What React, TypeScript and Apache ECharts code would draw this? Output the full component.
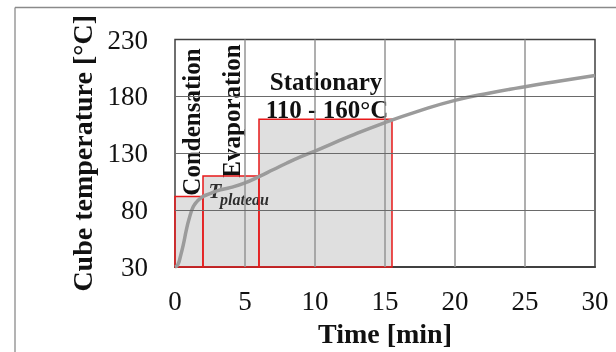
import React, { useEffect, useRef } from "react";
import * as echarts from "echarts";

const timeMin = [0, 0.2, 0.4, 0.6, 0.8, 1.0, 1.3, 1.6, 2.0, 2.5, 3.0, 4.0, 5.0, 6.0, 7.0, 8.0, 9.0, 10.0, 12.5, 15.0, 17.5, 20.0, 22.5, 25.0, 27.5, 30.0];
const tempC = [30, 32, 40, 50, 62, 72, 83, 88, 92, 94.5, 97, 100, 104, 109.5, 115.5, 121.5, 127, 132, 145, 157, 167.5, 176.5, 183, 188.5, 193.5, 198.4];

const phaseNames = ["Condensation", "Evaporation", "Stationary"];
const phaseStart = [0, 2, 6];
const phaseEnd = [2, 6, 15.5];
const phaseTop = [92, 110, 160];

const yMin = 30;
const yMax = 230;
const yStep = 50;
const xMin = 0;
const xMax = 30;
const xStep = 5;
const xGrid = [5, 10, 15, 20, 25];
const yGrid = [80, 130, 180];

const SERIF = "'Liberation Serif', 'Times New Roman', serif";

export default function App() {
  const ref = useRef<HTMLDivElement>(null);
  useEffect(() => {
    if (!ref.current) return;
    document.body.style.margin = "0";
    document.body.style.overflow = "hidden";
    document.documentElement.style.overflow = "hidden";
    const chart = echarts.init(ref.current, null, { renderer: "svg" });
    const pairs = timeMin.map((t, i) => [t, tempC[i]]);
    const option: any = {
      animation: false,
      grid: {
        left: 175,
        top: 39.5,
        right: 21,
        bottom: 78.3,
        show: true,
        borderColor: "#404040",
        borderWidth: 1.5,
        backgroundColor: "transparent",
      },
      xAxis: {
        type: "value",
        min: xMin,
        max: xMax,
        interval: xStep,
        name: "Time [min]",
        nameLocation: "middle",
        nameGap: 49,
        nameTextStyle: { fontFamily: SERIF, fontWeight: "bold", fontSize: 28, color: "#111" },
        axisLine: { show: true, onZero: false, lineStyle: { color: "#404040", width: 2 } },
        axisTick: { show: false },
        axisLabel: { fontFamily: SERIF, fontSize: 27, color: "#111", margin: 20 },
        splitLine: { show: false },
      },
      yAxis: {
        type: "value",
        min: yMin,
        max: yMax,
        interval: yStep,
        name: "Cube temperature [°C]",
        nameLocation: "middle",
        nameGap: 74,
        nameTextStyle: { fontFamily: SERIF, fontWeight: "bold", fontSize: 28, color: "#111" },
        axisLine: { show: false },
        axisTick: { show: false },
        axisLabel: { fontFamily: SERIF, fontSize: 27, color: "#111", margin: 27 },
        splitLine: { show: false },
      },
      series: [
        {
          type: "line",
          name: "phases",
          data: pairs,
          z: 1,
          showSymbol: false,
          silent: true,
          lineStyle: { opacity: 0 },
          markArea: {
            silent: true,
            itemStyle: {
              color: "rgba(150,150,150,0.30)",
              borderColor: "#e8191a",
              borderWidth: 1.5,
            },
            label: { show: false },
            data: phaseStart.map((s, i) => [
              { xAxis: s, yAxis: yMin },
              { xAxis: phaseEnd[i], yAxis: phaseTop[i] },
            ]),
          },
        },
        {
          type: "line",
          name: "grid",
          data: pairs,
          z: 2,
          showSymbol: false,
          silent: true,
          lineStyle: { opacity: 0 },
          markLine: {
            silent: true,
            symbol: ["none", "none"],
            label: { show: false },
            data: [
              ...xGrid.map((v) => ({ xAxis: v, lineStyle: { color: "#959595", width: 1.5, type: "solid" } })),
              ...yGrid.map((v) => ({ yAxis: v, lineStyle: { color: "#6a6a6a", width: 1, type: "solid" } })),
            ],
          },
        },
        {
          type: "line",
          name: "Cube temperature",
          data: pairs,
          smooth: 0.5,
          showSymbol: false,
          z: 3,
          lineStyle: { color: "#9b9b9b", width: 3.5 },
        },
      ],
      graphic: [
        {
          type: "line",
          silent: true,
          shape: { x1: 15, y1: 7.5, x2: 616, y2: 7.5 },
          style: { stroke: "#8a8a8a", lineWidth: 1.3 },
        },
        {
          type: "line",
          silent: true,
          shape: { x1: 15, y1: 7.5, x2: 15, y2: 352 },
          style: { stroke: "#8a8a8a", lineWidth: 1.3 },
        },
        {
          type: "text",
          x: 191.5,
          y: 122,
          rotation: Math.PI / 2,
          style: {
            text: phaseNames[0],
            font: `bold 25px ${SERIF}`,
            fill: "#111",
            textAlign: "center",
            textVerticalAlign: "middle",
          },
        },
        {
          type: "text",
          x: 231.5,
          y: 111,
          rotation: Math.PI / 2,
          style: {
            text: phaseNames[1],
            font: `bold 25px ${SERIF}`,
            fill: "#111",
            textAlign: "center",
            textVerticalAlign: "middle",
          },
        },
        {
          type: "text",
          x: 326,
          y: 81.5,
          style: {
            text: phaseNames[2],
            font: `bold 25px ${SERIF}`,
            fill: "#111",
            textAlign: "center",
            textVerticalAlign: "middle",
          },
        },
        {
          type: "text",
          x: 327,
          y: 109,
          style: {
            text: "110 - 160°C",
            font: `bold 25px ${SERIF}`,
            fill: "#111",
            textAlign: "center",
            textVerticalAlign: "middle",
          },
        },
        {
          type: "text",
          x: 208.5,
          y: 191,
          style: {
            text: "T",
            font: `italic bold 21px ${SERIF}`,
            fill: "#000",
            textAlign: "left",
            textVerticalAlign: "middle",
          },
        },
        {
          type: "text",
          x: 220,
          y: 199,
          style: {
            text: "plateau",
            font: `italic bold 16px ${SERIF}`,
            fill: "#000",
            textAlign: "left",
            textVerticalAlign: "middle",
          },
        },
      ],
    };
    chart.setOption(option);
    return () => chart.dispose();
  }, []);
  return (
    <div
      ref={ref}
      style={{ position: "fixed", left: 0, top: 0, width: 616, height: 352 }}
    />
  );
}
